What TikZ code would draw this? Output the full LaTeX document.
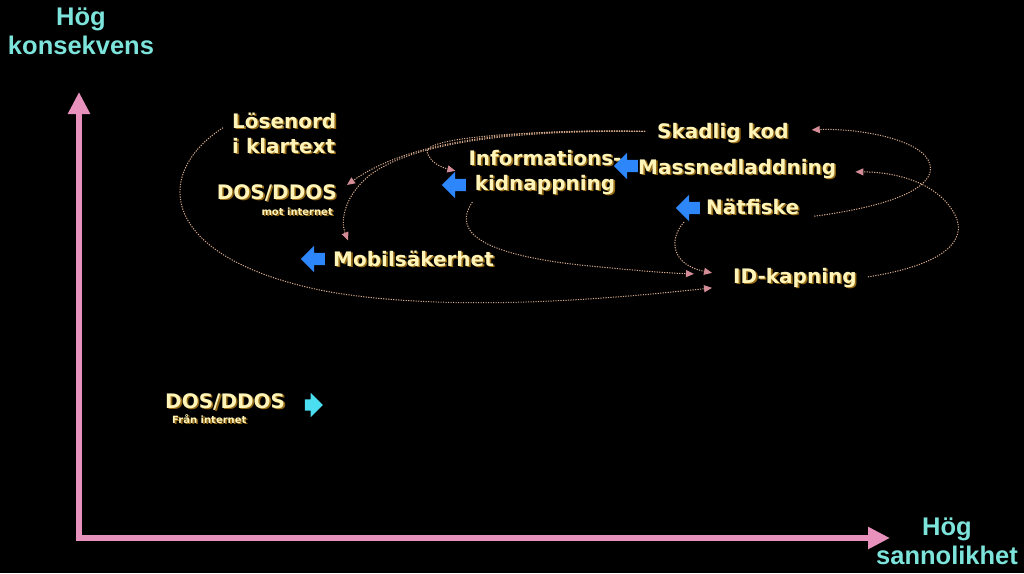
\documentclass[tikz,border=0pt]{standalone}
\usepackage{fontspec}
\setmainfont{DejaVu Sans}
\newfontfamily\axfont{Liberation Sans}
\usetikzlibrary{arrows.meta,shapes.arrows,calc}
\definecolor{bgc}{RGB}{0,0,0}
\definecolor{axc}{RGB}{232,145,188}
\definecolor{axtc}{RGB}{125,228,220}
\definecolor{lblc}{RGB}{255,245,185}
\definecolor{shadc}{RGB}{150,105,20}
\definecolor{bluec}{RGB}{45,135,250}
\definecolor{cyanc}{RGB}{75,222,240}
\definecolor{dotc}{RGB}{215,170,140}
\definecolor{tipc}{RGB}{212,140,150}
\newcommand\shd[1]{\makebox[0pt][l]{\kern1.6pt\raisebox{-1.6pt}{\textcolor{shadc}{#1}}}#1}
\begin{document}
\begin{tikzpicture}[x=1pt,y=-1pt,
  lbl/.style={text=lblc, inner sep=0pt, font=\fontsize{20}{25}\selectfont\bfseries},
  sublbl/.style={text=lblc, inner sep=0pt, font=\fontsize{10}{12}\selectfont\bfseries},
  axlbl/.style={text=axtc, inner sep=0pt, align=center, font=\axfont\fontsize{25.5}{29}\selectfont\bfseries},
  barrow/.style={single arrow, shape border rotate=180, fill=bluec, draw=none, inner xsep=0pt, inner ysep=6pt, minimum height=24pt, single arrow head extend=7pt},
  carrow/.style={single arrow, fill=cyanc, draw=none, inner xsep=0pt, inner ysep=5.5pt, minimum height=18pt, single arrow head extend=6.5pt},
  axisline/.style={draw=axc, line width=5.5pt, -{Triangle[width=21pt,length=22pt]}},
  dline/.style={draw=dotc, line width=1pt, dash pattern=on 1.2pt off 1.3pt, -{Triangle[width=7pt,length=8pt,color=tipc]}}
]
\fill[bgc] (0,0) rectangle (1024,573);
\path[use as bounding box] (0,0) rectangle (1024,573);

% axes
\coordinate (yb) at (79,541);
\coordinate (yt) at (79,92);
\coordinate (xb) at (76,538);
\coordinate (xt) at (890,538);
\draw[axisline] (yb) -- (yt);
\draw[axisline] (xb) -- (xt);
\node[axlbl] (ylab) at (81,31) {Hög\\konsekvens};
\node[axlbl] (xlab) at (947,541) {Hög\\sannolikhet};

% labels
\node[lbl, anchor=base west, align=left] (los) at (232,153) {\shd{Lösenord}\\\shd{i klartext}};
\node[lbl, anchor=base east] (dosm) at (337,199) {\shd{DOS/DDOS}};
\node[sublbl, anchor=base east] (dosmsub) at (333,215) {\shd{mot internet}};
\node[lbl, anchor=base west] (mob) at (333,266) {\shd{Mobilsäkerhet}};
\node[lbl, anchor=base, align=center] (info) at (545,190) {\shd{Informations-}\\\shd{kidnappning}};
\node[lbl, anchor=base west] (mass) at (638,174) {\shd{Massnedladdning}};
\node[lbl, anchor=base west] (skad) at (657,138) {\shd{Skadlig kod}};
\node[lbl, anchor=base west] (nat) at (706,214) {\shd{Nätfiske}};
\node[lbl, anchor=base west] (idk) at (733,283) {\shd{ID-kapning}};
\node[lbl, anchor=base west] (dosf) at (165,408) {\shd{DOS/DDOS}};
\node[sublbl, anchor=base west] (dosfsub) at (172,423) {\shd{Från internet}};

% block arrows
\node[barrow] (mobarr) at (316,259) {};
\node[barrow] (infarr) at (457,185) {};
\node[barrow] (massarr) at (629,166) {};
\node[barrow] (natarr) at (691,208) {};
\node[carrow] (dosfarr) at (311,405) {};

% dotted connectors
\draw[dline] ($(los.west)+(-9,-6)$) .. controls (150,175) and (160,260) .. (330,292)
  .. controls (450,312) and (600,300) .. ($(idk.west)+(-21,9.5)$);
\draw[dline] ($(skad.west)+(-12,-2)$) .. controls (520,128) and (410,140) .. ($(dosm.north east)+(10,1)$);
\draw[dline] ($(skad.west)+(-12,-2)$) .. controls (500,130) and (410,145) .. (370,175)
  .. controls (345,195) and (340,220) .. ($(mob.north west)+(15,-10)$);
\draw[dline] ($(skad.west)+(-12,-2)$) .. controls (520,130) and (425,138) .. (427,152)
  .. controls (430,162) and (440,167) .. ($(info.west)+(-13,-2)$);
\draw[dline] ($(info.south west)+(4,6)$) .. controls (450,235) and (490,255) .. (580,265)
  .. controls (630,270) and (665,273) .. ($(idk.west)+(-39,-4.5)$);
\draw[dline] ($(natarr.center)+(-7,14)$) .. controls (668,240) and (672,265) .. ($(idk.west)+(-21,-5.5)$);
\draw[dline] ($(nat.east)+(15,9)$) .. controls (900,205) and (935,185) .. (930,165)
  .. controls (925,140) and (860,128) .. ($(skad.east)+(23,-3.5)$);
\draw[dline] ($(idk.east)+(11,-1.5)$) .. controls (945,265) and (968,240) .. (955,215)
  .. controls (940,185) and (900,172) .. ($(mass.east)+(19,2.5)$);
\end{tikzpicture}
\end{document}
